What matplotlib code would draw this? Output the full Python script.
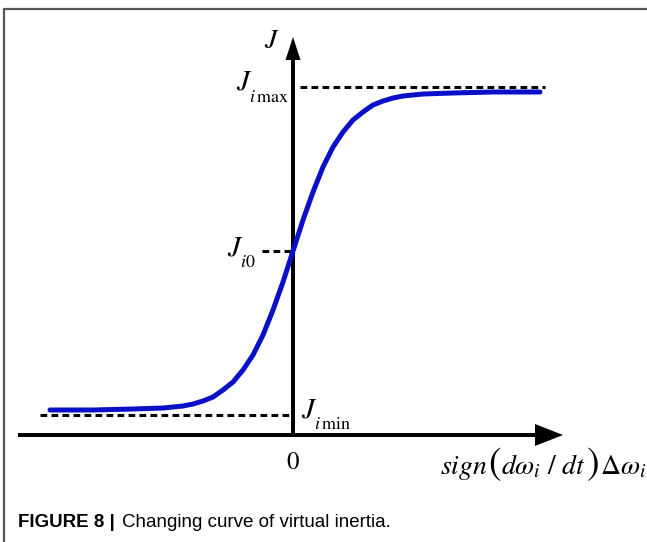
import matplotlib
matplotlib.use("Agg")
import matplotlib.pyplot as plt
from matplotlib.lines import Line2D

plt.rcParams["mathtext.fontset"] = "stix"

# sigmoid curve of virtual inertia J against sign(dw/dt)*dw
curve_x = [-2.43, -2.0, -1.6, -1.3, -1.1, -1.0, -0.9, -0.8, -0.7, -0.6,
           -0.5, -0.4, -0.3, -0.2, -0.1, 0.0, 0.1, 0.2, 0.3, 0.4,
           0.5, 0.6, 0.7, 0.8, 0.9, 1.0, 1.1, 1.3, 1.6, 2.0, 2.47]
curve_y = [0.25, 0.25, 0.26, 0.27, 0.29, 0.31, 0.34, 0.38, 0.45, 0.53,
           0.65, 0.80, 1.00, 1.25, 1.53, 1.84, 2.15, 2.43, 2.68, 2.88,
           3.03, 3.15, 3.23, 3.30, 3.34, 3.37, 3.39, 3.41, 3.42, 3.43, 3.43]

j_max = 3.48
j_0 = 1.84
j_min = 0.20

fig = plt.figure(figsize=(6.47, 5.42), dpi=100)
ax = fig.add_axes([0, 0, 1, 1])
ax.set_xlim(-2.93, 3.54)
ax.set_ylim(-1.07, 4.35)
ax.axis("off")

# frame around the panel (top and left edges)
fig.add_artist(Line2D([0.006, 0.006, 1.0], [0.0, 0.983, 0.983],
                      transform=fig.transFigure, color="#555555", lw=1.6))

# axes with arrows
ax.arrow(-2.75, 0, 5.45, 0, width=0.04, head_width=0.22, head_length=0.28,
         length_includes_head=True, fc="black", ec="none")
ax.arrow(0, 0, 0, 3.98, width=0.04, head_width=0.15, head_length=0.23,
         length_includes_head=True, fc="black", ec="none")

# reference levels
dash = dict(color="black", lw=2.2, ls=(0, (2.2, 1.4)))
ax.plot([0.07, 2.52], [j_max, j_max], **dash)
ax.plot([-0.31, 0], [j_0, j_0], **dash)
ax.plot([-2.53, -0.03], [j_min, j_min], **dash)

ax.plot(curve_x, curve_y, color="#0a10c8", lw=3.6,
        solid_capstyle="round", solid_joinstyle="round")


def j_label(x, y, sub):
    j = ax.text(x, y, r"$J$", fontsize=21, ha="left", va="baseline")
    ax.annotate(sub, xy=(1, 0), xycoords=j, xytext=(-2.5, -4),
                textcoords="offset points", fontsize=13, ha="left",
                va="baseline", family="STIXGeneral")


ax.text(-0.285, 3.87, r"$J$", fontsize=20, ha="left", va="baseline")
j_label(-0.57, 3.45, r"$i\,$max")
j_label(-0.66, 1.80, r"$i$0")
j_label(0.08, 0.18, r"$i\,$min")
ax.text(0, -0.28, "0", fontsize=18, family="STIXGeneral",
        ha="center", va="center")

# horizontal axis label, assembled so the brackets can be larger
pieces = [(r"$sign$", 20), ("(", 27), (r"$d\omega_i\ /\ dt$", 20),
          (")", 27), (r"$\Delta\omega_i$", 20)]
prev = None
for s, fs in pieces:
    if prev is None:
        prev = ax.text(1.47, -0.39, s, fontsize=fs, ha="left", va="baseline",
                       family="STIXGeneral")
    else:
        prev = ax.annotate(s, xy=(1, -0.39), xycoords=(prev, "data"),
                           xytext=(0.5, 0), textcoords="offset points",
                           fontsize=fs, ha="left", va="baseline",
                           family="STIXGeneral")

# caption: bold figure number followed by the regular text
cap = fig.text(0.028, 0.027, "FIGURE 8 |", fontsize=13.5, fontweight="bold",
               family="Liberation Sans", va="baseline")
ax.annotate("Changing curve of virtual inertia.", xy=(1, 0.027),
            xycoords=(cap, fig.transFigure), xytext=(5, 0),
            textcoords="offset points", fontsize=13.5,
            family="Liberation Sans", va="baseline")

fig.savefig("out.png", dpi=100)
